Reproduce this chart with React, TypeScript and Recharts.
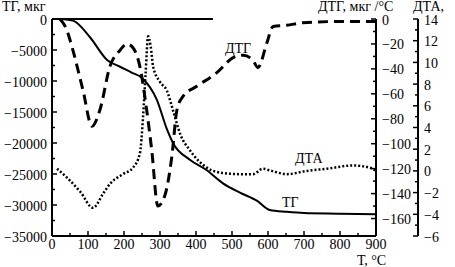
import { ComposedChart, Line, XAxis, YAxis, ReferenceLine } from 'recharts';

// ТГ, мкг
const tgTemps = [22, 40, 60, 105, 153, 189, 220, 250, 291, 320, 336, 383, 430, 475, 522, 569, 605, 652, 700, 800, 900];
const tgValues = [0, -100, -300, -2900, -6600, -7700, -8600, -9500, -13000, -17900, -20000, -22700, -24400, -26500, -28000, -29300, -30800, -31100, -31300, -31400, -31500];

// ДТГ, мкг/°С
const dtgTemps = [22, 40, 58, 86, 111, 133, 161, 189, 208, 225, 244, 263, 277, 294, 313, 333, 347, 364, 402, 458, 503, 531, 558, 572, 597, 614, 652, 697, 800, 900];
const dtgValues = [0, -8, -25, -57, -86, -73, -38, -25, -20, -23, -38, -73, -105, -150, -142, -110, -73, -62, -54, -43, -31, -29, -33, -39, -19, -6, -5, -3, -2, -2];

// ДТА
const dtaTemps = [14, 41, 78, 114, 142, 161, 197, 225, 244, 253, 260, 267, 274, 281, 300, 319, 336, 356, 383, 430, 475, 522, 558, 586, 610, 652, 708, 764, 836, 883, 900];
const dtaValues = [0.2, -0.6, -1.9, -3.4, -2.1, -1.2, -0.3, 0.3, 1.6, 5, 9, 12.4, 11.5, 9.6, 8.2, 7.4, 5.6, 3.4, 1.9, 0.3, -0.2, -0.3, -0.3, 0.2, 0, -0.3, 0, 0.2, 0.5, 0.3, 0];

const xTicks = [0, 50, 100, 150, 200, 250, 300, 350, 400, 450, 500, 550, 600, 650, 700, 750, 800, 850, 900];
const tgTicks = [0, -2500, -5000, -7500, -10000, -12500, -15000, -17500, -20000, -22500, -25000, -27500, -30000, -32500, -35000];
const dtgTicks = [0, -10, -20, -30, -40, -50, -60, -70, -80, -90, -100, -110, -120, -130, -140, -150, -160];
const dtaTicks = [14, 13, 12, 11, 10, 9, 8, 7, 6, 5, 4, 3, 2, 1, 0, -1, -2, -3, -4, -5, -6];

const tgData = tgTemps.map((t, i) => ({ t, v: tgValues[i] }));
const dtgData = dtgTemps.map((t, i) => ({ t, v: dtgValues[i] }));
const dtaData = dtaTemps.map((t, i) => ({ t, v: dtaValues[i] }));

const FONT = "'Times New Roman', Times, 'Liberation Serif', Tinos, 'DejaVu Serif', serif";
const GAP = 4;
const txt = { fontFamily: FONT, fontSize: 14 };

const fmt = (v: number) => (v < 0 ? '\u2212' + Math.abs(v) : String(v));

function makeTick(side: 'left' | 'right' | 'bottom', isMajor: (v: number) => boolean) {
  return (p: any) => {
    const v = p.payload.value as number;
    const major = isMajor(v);
    const len = major ? 5 : 3;
    if (side === 'left') {
      const ax = p.x + GAP;
      return (
        <g>
          <line x1={ax} x2={ax + len} y1={p.y} y2={p.y} stroke="#000" strokeWidth={1.5} />
          {major && (
            <text x={p.x - 1} y={p.y + 1} textAnchor="end" dominantBaseline="central" style={txt} fill="#000">
              {fmt(v)}
            </text>
          )}
        </g>
      );
    }
    if (side === 'right') {
      const ax = p.x - GAP;
      return (
        <g>
          <line x1={ax} x2={ax - len} y1={p.y} y2={p.y} stroke="#000" strokeWidth={1.5} />
          {major && (
            <text x={p.x + 2} y={p.y + 1} textAnchor="start" dominantBaseline="central" style={txt} fill="#000">
              {fmt(v)}
            </text>
          )}
        </g>
      );
    }
    const ay = p.y - GAP;
    return (
      <g>
        <line x1={p.x} x2={p.x} y1={ay} y2={ay - len} stroke="#000" strokeWidth={1.5} />
        {major && (
          <text x={p.x} y={p.y + 4} textAnchor="middle" dominantBaseline="central" style={txt} fill="#000">
            {fmt(v)}
          </text>
        )}
      </g>
    );
  };
}

const axisLine = { stroke: '#000', strokeWidth: 2 };

export default function App() {
  return (
    <div style={{ position: 'absolute', left: 0, top: 0, width: 455, height: 267, background: '#fff', fontFamily: FONT }}>
      <ComposedChart width={455} height={267} margin={{ top: 19, right: 0, bottom: 0, left: 0 }}>
        <XAxis
          dataKey="t"
          type="number"
          domain={[0, 900]}
          ticks={xTicks}
          height={31}
          axisLine={axisLine}
          tickLine={false}
          tickSize={0}
          tickMargin={GAP}
          tick={makeTick('bottom', (v) => v % 100 === 0)}
          interval={0}
          allowDataOverflow
        />
        <YAxis
          yAxisId="y1"
          orientation="left"
          domain={[-35000, 0]}
          ticks={tgTicks}
          width={52}
          axisLine={axisLine}
          tickLine={false}
          tickSize={0}
          tickMargin={GAP}
          tick={makeTick('left', (v) => v % 5000 === 0)}
          interval={0}
          allowDataOverflow
        />
        <YAxis
          yAxisId="y2"
          orientation="right"
          domain={[-174, 0]}
          ticks={dtgTicks}
          width={42}
          axisLine={axisLine}
          tickLine={false}
          tickSize={0}
          tickMargin={GAP}
          tick={makeTick('right', (v) => v % 20 === 0)}
          interval={0}
          allowDataOverflow
        />
        <YAxis
          yAxisId="y3"
          orientation="right"
          domain={[-6, 14]}
          ticks={dtaTicks}
          width={37}
          axisLine={axisLine}
          tickLine={false}
          tickSize={0}
          tickMargin={GAP}
          tick={makeTick('right', (v) => v % 2 === 0)}
          interval={0}
          allowDataOverflow
        />
        <ReferenceLine
          yAxisId="y1"
          segment={[{ x: 0, y: 0 }, { x: 447, y: 0 }]}
          stroke="#000"
          strokeWidth={2}
        />
        <Line
          yAxisId="y3"
          data={dtaData}
          dataKey="v"
          type="monotone"
          stroke="#000"
          strokeWidth={2.5}
          strokeDasharray="2 2"
          dot={false}
          isAnimationActive={false}
        />
        <Line
          yAxisId="y2"
          data={dtgData}
          dataKey="v"
          type="monotone"
          stroke="#000"
          strokeWidth={3}
          strokeDasharray="10 6"
          dot={false}
          isAnimationActive={false}
        />
        <Line
          yAxisId="y1"
          data={tgData}
          dataKey="v"
          type="monotone"
          stroke="#000"
          strokeWidth={2}
          dot={false}
          isAnimationActive={false}
        />
      </ComposedChart>
      <svg width={455} height={267} style={{ position: 'absolute', left: 0, top: 0, pointerEvents: 'none' }}>
        <g style={{ fontFamily: FONT, fontSize: 14 }} fill="#000">
          <text x={2} y={11}>ТГ, мкг</text>
          <text x={318} y={11}>ДТГ, мкг /°С</text>
          <text x={413} y={11}>ДТА,</text>
          <text x={357} y={265}>Т, °С</text>
          <text x={225} y={53}>ДТГ</text>
          <text x={295} y={163}>ДТА</text>
          <text x={282} y={207}>ТГ</text>
        </g>
      </svg>
    </div>
  );
}
